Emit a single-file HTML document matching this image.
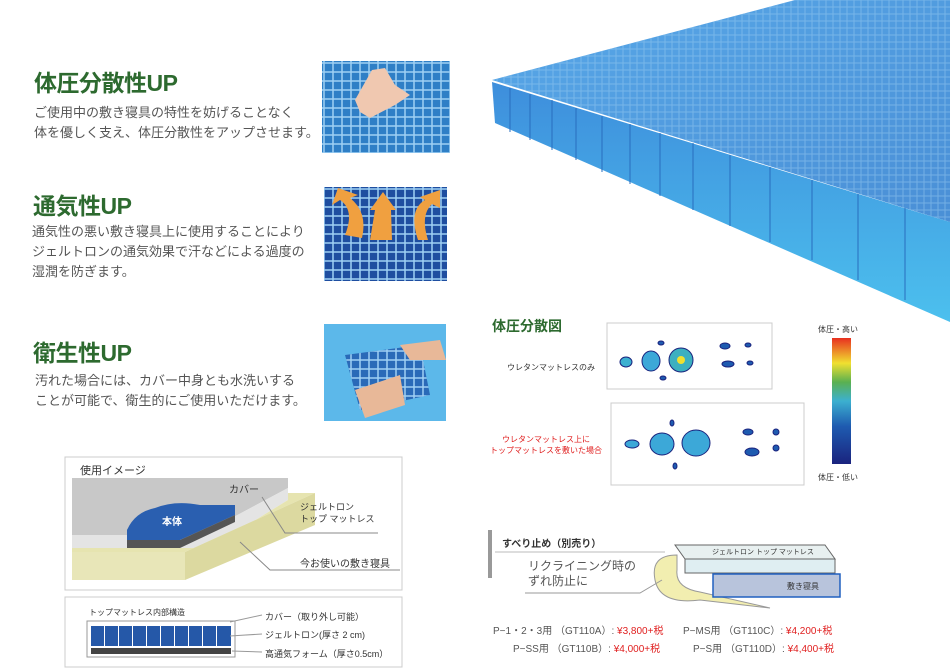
<!DOCTYPE html>
<html><head><meta charset="utf-8"><style>
body{margin:0;width:950px;height:670px;background:#fff;position:relative;overflow:hidden;font-family:"Liberation Sans","Noto Sans CJK JP",sans-serif;}
.a{position:absolute;white-space:nowrap;}
.h{color:#2d6a2f;font-weight:bold;font-size:23px;letter-spacing:-0.5px;}
.t{color:#555;font-size:13px;line-height:20px;}
.r{color:#e02020;}
svg{position:absolute;left:0;top:0;}
</style></head><body>
<svg width="950" height="670">
<defs>
<linearGradient id="top" x1="0" y1="0" x2="1" y2="1"><stop offset="0" stop-color="#58a8e8"/><stop offset="1" stop-color="#4a8fd6"/></linearGradient>
<linearGradient id="fr" x1="0" y1="0" x2="0" y2="1"><stop offset="0" stop-color="#3e8edc"/><stop offset="1" stop-color="#4cc0ee"/></linearGradient>
<pattern id="g" width="7" height="7" patternUnits="userSpaceOnUse"><rect width="7" height="7" fill="none" stroke="#9ccef2" stroke-width="1" opacity="0.5"/></pattern>
<pattern id="g2" width="9" height="9" patternUnits="userSpaceOnUse"><rect width="9" height="9" fill="none" stroke="#9fd0f4" stroke-width="1.5"/></pattern>
<linearGradient id="cb" x1="0" y1="1" x2="0" y2="0"><stop offset="0" stop-color="#1a237e"/><stop offset=".3" stop-color="#1e5bb0"/><stop offset=".5" stop-color="#3cb0d0"/><stop offset=".65" stop-color="#5ab050"/><stop offset=".8" stop-color="#f0e030"/><stop offset="1" stop-color="#e83020"/></linearGradient>
</defs>
<!-- mattress -->
<polygon points="492,80 795,0 950,0 950,222" fill="url(#top)"/>
<polygon points="492,80 795,0 950,0 950,222" fill="url(#g)"/>
<polygon points="492,82 950,222 950,322 495,123" fill="url(#fr)"/>
<g stroke="#2a6fc0" stroke-width="2" opacity=".5">
<line x1="510" y1="88" x2="510" y2="132"/><line x1="530" y1="94" x2="530" y2="140"/><line x1="552" y1="100" x2="552" y2="150"/><line x1="576" y1="108" x2="576" y2="160"/><line x1="602" y1="116" x2="602" y2="172"/><line x1="630" y1="124" x2="630" y2="184"/><line x1="660" y1="133" x2="660" y2="196"/><line x1="693" y1="143" x2="693" y2="210"/><line x1="730" y1="155" x2="730" y2="226"/><line x1="770" y1="167" x2="770" y2="242"/><line x1="812" y1="180" x2="812" y2="260"/><line x1="858" y1="194" x2="858" y2="280"/><line x1="905" y1="208" x2="905" y2="300"/>
</g>
<!-- photos -->
<rect x="322" y="61" width="128" height="92" fill="#2f7fc6"/><rect x="322" y="61" width="128" height="92" fill="url(#g2)"/>
<path d="M355 100 L372 70 L385 68 L395 85 L410 95 L395 105 L370 118 L360 112Z" fill="#f0c8b0"/>
<rect x="324" y="187" width="123" height="94" fill="#1f4ea0"/><rect x="324" y="187" width="123" height="94" fill="url(#g2)"/>
<path d="M370 240 L375 210 L370 210 L383 192 L396 210 L391 210 L392 240Z" fill="#f0a040"/>
<path d="M345 235 Q355 210 340 200 L332 205 L338 188 L358 195 L350 198 Q368 212 362 238Z" fill="#f0a040"/>
<path d="M418 240 Q408 210 425 200 L420 197 L440 190 L440 208 L432 204 Q420 215 428 240Z" fill="#f0a040"/>
<rect x="324" y="324" width="122" height="97" fill="#5cb8ea"/>
<path d="M345 355 L420 345 L430 395 L360 410Z" fill="#2a6ab8"/><path d="M345 355 L420 345 L430 395 L360 410Z" fill="url(#g2)"/>
<path d="M400 345 L440 340 L446 360 L410 360Z" fill="#e8b898"/><path d="M355 390 L400 375 L405 405 L365 418Z" fill="#e8b898"/>
<!-- usage box -->
<rect x="65" y="457" width="337" height="133" fill="#fff" stroke="#ccc"/>
<polygon points="72,478 288,478 288,488 200,535 72,535" fill="#c8c8c8"/>
<polygon points="72,535 200,535 288,488 288,500 210,548 72,548" fill="#e4e4e4"/>
<polygon points="72,548 210,548 288,500 288,493 315,493 185,552 72,552" fill="#e6e4b0"/>
<polygon points="72,552 185,552 185,580 72,580" fill="#e8e6b8"/>
<polygon points="185,552 315,493 315,525 185,580" fill="#dcd9a0"/>
<path d="M127 530 Q135 512 155 508 Q175 500 200 505 L235 505 L235 515 L180 540 L127 540Z" fill="#2a5fb0"/>
<polygon points="127,540 180,540 235,515 235,522 180,548 127,548" fill="#555"/>
<g stroke="#888" fill="none"><polyline points="262,497 285,533 378,533"/><polyline points="240,542 270,570 400,570"/></g>
<rect x="65" y="597" width="337" height="70" fill="#fff" stroke="#ccc"/>
<rect x="87" y="621" width="148" height="36" fill="#fff" stroke="#999"/>
<g fill="#2558a8"><rect x="91" y="626" width="13" height="20"/><rect x="105" y="626" width="13" height="20"/><rect x="119" y="626" width="13" height="20"/><rect x="133" y="626" width="13" height="20"/><rect x="147" y="626" width="13" height="20"/><rect x="161" y="626" width="13" height="20"/><rect x="175" y="626" width="13" height="20"/><rect x="189" y="626" width="13" height="20"/><rect x="203" y="626" width="13" height="20"/><rect x="217" y="626" width="14" height="20"/></g>
<rect x="91" y="648" width="140" height="6" fill="#444"/>
<g stroke="#999"><line x1="230" y1="622" x2="262" y2="615"/><line x1="230" y1="636" x2="262" y2="634"/><line x1="232" y1="651" x2="262" y2="652"/></g>
<!-- pressure maps -->
<rect x="607" y="323" width="165" height="66" fill="#fff" stroke="#ccc"/>
<rect x="611" y="403" width="193" height="82" fill="#fff" stroke="#ccc"/>
<g fill="#1e5bb0" stroke="#1a237e">
<ellipse cx="626" cy="362" rx="6" ry="5" fill="#3cb0d0"/><ellipse cx="651" cy="361" rx="9" ry="10" fill="#3ca8d8"/><ellipse cx="681" cy="360" rx="12" ry="12" fill="#3cb0c0"/><circle cx="681" cy="360" r="4" fill="#f0e030" stroke="none"/>
<ellipse cx="661" cy="343" rx="3" ry="2"/><ellipse cx="663" cy="378" rx="3" ry="2"/><ellipse cx="725" cy="346" rx="5" ry="3"/><ellipse cx="728" cy="364" rx="6" ry="3"/><ellipse cx="748" cy="345" rx="3" ry="2"/><ellipse cx="750" cy="363" rx="3" ry="2"/>
<ellipse cx="632" cy="444" rx="7" ry="4" fill="#3ca8d8"/><ellipse cx="662" cy="444" rx="12" ry="11" fill="#3ca8d8"/><ellipse cx="696" cy="443" rx="14" ry="13" fill="#3ca8d8"/>
<ellipse cx="672" cy="423" rx="2" ry="3"/><ellipse cx="675" cy="466" rx="2" ry="3"/><ellipse cx="748" cy="432" rx="5" ry="3"/><ellipse cx="752" cy="452" rx="7" ry="4"/><ellipse cx="776" cy="432" rx="3" ry="3"/><ellipse cx="776" cy="448" rx="3" ry="3"/>
</g>
<rect x="832" y="338" width="19" height="126" fill="url(#cb)"/>
<!-- anti-slip -->
<rect x="488" y="530" width="4" height="48" fill="#999"/>
<line x1="495" y1="552" x2="665" y2="552" stroke="#bbb"/>
<path d="M677 555 Q650 555 655 580 Q660 605 700 600 L770 608 L700 592 Q675 588 677 570Z" fill="#f2eeb0" stroke="#999"/>
<polygon points="675,545 825,545 835,559 685,559" fill="#e8f0f0" stroke="#666"/>
<rect x="685" y="559" width="150" height="14" fill="#dfeef2" stroke="#666"/>
<rect x="713" y="574" width="127" height="23" fill="#b8c4dc" stroke="#2060c0" stroke-width="1.5"/>
<polyline points="525,593 640,593 662,580" fill="none" stroke="#999"/>
</svg>

<div class="a h" style="left:34px;top:64px;">体圧分散性UP</div>
<div class="a t" style="left:34px;top:103px;">ご使用中の敷き寝具の特性を妨げることなく<br>体を優しく支え、体圧分散性をアップさせます。</div>
<div class="a h" style="left:33px;top:187px;">通気性UP</div>
<div class="a t" style="left:32px;top:222px;">通気性の悪い敷き寝具上に使用することにより<br>ジェルトロンの通気効果で汗などによる過度の<br>湿潤を防ぎます。</div>
<div class="a h" style="left:33px;top:334px;">衛生性UP</div>
<div class="a t" style="left:35px;top:371px;">汚れた場合には、カバー中身とも水洗いする<br>ことが可能で、衛生的にご使用いただけます。</div>

<div class="a" style="left:80px;top:462px;font-size:11px;color:#333;">使用イメージ</div>
<div class="a" style="left:229px;top:481px;font-size:10px;color:#333;">カバー</div>
<div class="a" style="left:162px;top:513px;font-size:10px;color:#fff;font-weight:bold;">本体</div>
<div class="a" style="left:300px;top:501px;font-size:9px;color:#333;line-height:12px;">ジェルトロン<br>トップ マットレス</div>
<div class="a" style="left:300px;top:555px;font-size:10px;color:#333;">今お使いの敷き寝具</div>
<div class="a" style="left:89px;top:607px;font-size:8px;color:#333;">トップマットレス内部構造</div>
<div class="a" style="left:265px;top:610px;font-size:9px;color:#333;">カバー（取り外し可能）</div>
<div class="a" style="left:265px;top:628px;font-size:9px;color:#333;">ジェルトロン(厚さ 2 cm)</div>
<div class="a" style="left:265px;top:647px;font-size:9px;color:#333;">高通気フォーム（厚さ0.5cm）</div>

<div class="a" style="left:492px;top:316px;font-size:14px;font-weight:bold;color:#2d6a2f;">体圧分散図</div>
<div class="a" style="left:507px;top:362px;font-size:8px;color:#333;">ウレタンマットレスのみ</div>
<div class="a r" style="left:490px;top:434px;font-size:8px;line-height:11px;text-align:center;">ウレタンマットレス上に<br>トップマットレスを敷いた場合</div>
<div class="a" style="left:818px;top:324px;font-size:8px;color:#333;">体圧・高い</div>
<div class="a" style="left:818px;top:472px;font-size:8px;color:#333;">体圧・低い</div>

<div class="a" style="left:502px;top:535px;font-size:10px;font-weight:bold;color:#333;">すべり止め（別売り）</div>
<div class="a" style="left:528px;top:559px;font-size:12px;color:#555;line-height:15px;">リクライニング時の<br>ずれ防止に</div>
<div class="a" style="left:712px;top:547px;font-size:7px;color:#333;">ジェルトロン トップ マットレス</div>
<div class="a" style="left:787px;top:581px;font-size:8px;color:#333;">敷き寝具</div>
<div class="a" style="left:493px;top:622px;font-size:10px;color:#555;">P−1・2・3用 （GT110A）: <span class="r">¥3,800+税</span></div>
<div class="a" style="left:513px;top:640px;font-size:10px;color:#555;">P−SS用 （GT110B）: <span class="r">¥4,000+税</span></div>
<div class="a" style="left:683px;top:622px;font-size:10px;color:#555;">P−MS用 （GT110C）: <span class="r">¥4,200+税</span></div>
<div class="a" style="left:693px;top:640px;font-size:10px;color:#555;">P−S用 （GT110D）: <span class="r">¥4,400+税</span></div>
</body></html>
